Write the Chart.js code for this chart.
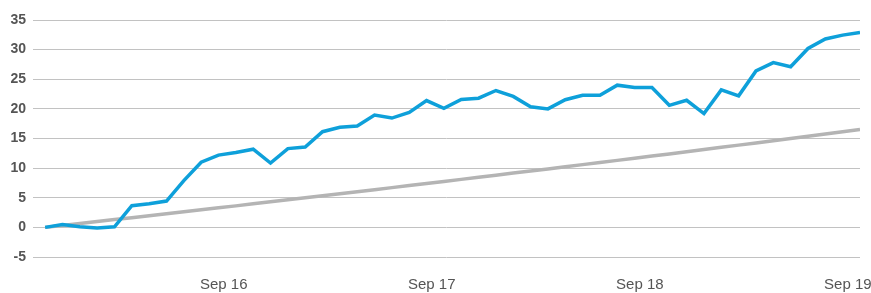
<!DOCTYPE html>
<html>
<head>
<meta charset="utf-8">
<script src="https://cdn.jsdelivr.net/npm/chart.js@4/dist/chart.umd.min.js"></script>
<style>
html,body{margin:0;padding:0;background:#fff;}
#wrap{width:871px;height:293px;position:relative;}
</style>
</head>
<body>
<div id="wrap"><canvas id="c" width="871" height="293"></canvas></div>
<script>
// Month index of each observation (monthly data)
const monthIndex = [0,1,2,3,4,5,6,7,8,9,10,11,12,13,14,15,16,17,18,19,20,21,22,23,24,25,26,27,28,29,30,31,32,33,34,35,36,37,38,39,40,41,42,43,44,45,46,47];
// Blue series (cumulative return, %)
const seriesBlue = [0,0.5,0.1,-0.1,0.1,3.65,4.0,4.45,7.9,11.0,12.2,12.65,13.2,10.85,13.3,13.55,16.15,16.9,17.1,18.95,18.45,19.4,21.4,20.1,21.6,21.8,23.1,22.1,20.35,20.0,21.55,22.3,22.3,24.0,23.6,23.6,20.6,21.45,19.2,23.2,22.2,26.4,27.8,27.1,30.2,31.8,32.45,32.9];
// Grey series (benchmark, %)
const seriesGrey = [0,0.33,0.65,0.98,1.31,1.64,1.97,2.3,2.63,2.96,3.3,3.63,3.97,4.31,4.65,4.99,5.33,5.67,6.02,6.36,6.71,7.05,7.4,7.75,8.1,8.45,8.81,9.16,9.52,9.87,10.23,10.59,10.95,11.31,11.67,12.04,12.4,12.77,13.14,13.51,13.88,14.25,14.62,15.0,15.37,15.75,16.13,16.51];
// X tick labels and where they fall (in month-index units)
const xTickValues = [10.3, 22.3, 34.3, 46.3];
const xTickLabels = ['Sep 16', 'Sep 17', 'Sep 18', 'Sep 19'];
// Y ticks
const yTickValues = [-5,0,5,10,15,20,25,30,35];

const blueData = monthIndex.map((m,i)=>({x:m, y:seriesBlue[i]}));
const greyData = monthIndex.map((m,i)=>({x:m, y:seriesGrey[i]}));

new Chart(document.getElementById('c'), {
  type: 'line',
  data: {
    datasets: [
      {data: blueData, borderColor:'#0ea0da', borderWidth:3.5, pointRadius:0, tension:0, fill:false},
      {data: greyData, borderColor:'#b4b4b4', borderWidth:3.5, pointRadius:0, tension:0, fill:false}
    ]
  },
  options: {
    responsive:false,
    animation:false,
    events: [],
    layout:{padding:{top:20,right:11,left:0,bottom:0}},
    plugins:{legend:{display:false}, tooltip:{enabled:false}},
    scales:{
      x:{
        type:'linear',
        min:-0.7, max:47,
        grid:{display:false, drawTicks:false},
        border:{display:false},
        afterBuildTicks:(s)=>{ s.ticks = xTickValues.map(v=>({value:v})); },
        afterFit:(s)=>{ s.paddingLeft=0; s.paddingRight=0; s.height=36; },
        ticks:{
          padding:19,
          maxRotation:0, autoSkip:false,
          color:'#555',
          font:{family:'"Liberation Sans", Arial, sans-serif', size:15},
          callback:(v)=>{ const i = xTickValues.indexOf(v); return i>=0 ? xTickLabels[i] : ''; }
        }
      },
      y:{
        min:-5, max:35,
        grid:{color:'#c2c2c2', lineWidth:1, drawTicks:false},
        border:{display:false},
        afterBuildTicks:(s)=>{ s.ticks = yTickValues.map(v=>({value:v})); },
        afterFit:(s)=>{ s.width=33; s.paddingTop=0; s.paddingBottom=0; },
        ticks:{
          padding:7,
          color:'#555',
          font:{family:'"Liberation Sans", Arial, sans-serif', size:14, weight:'bold'}
        }
      }
    }
  }
});
</script>
</body>
</html>
